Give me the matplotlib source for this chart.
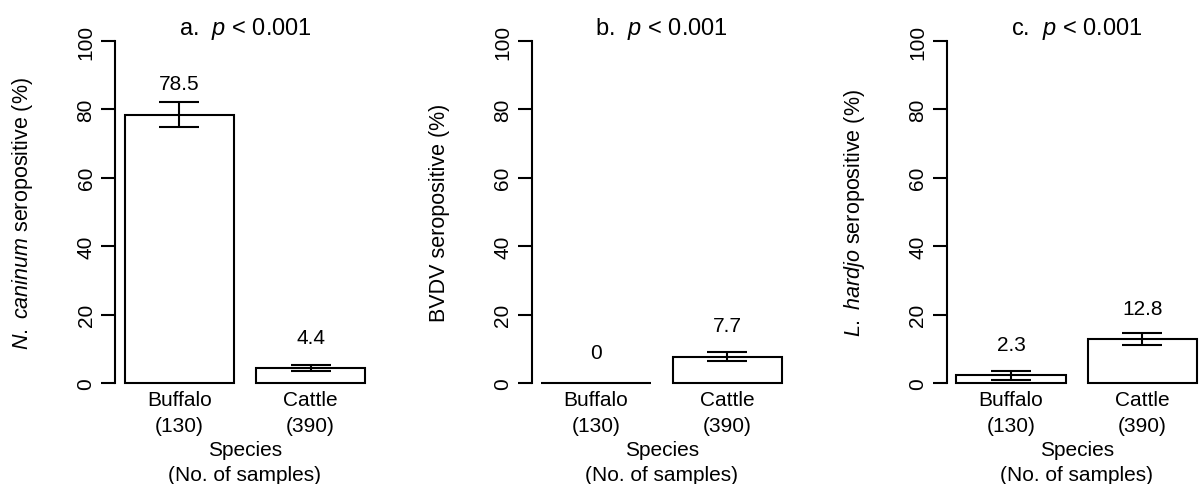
"""
Seroprevalence bar charts: buffalo vs cattle for three pathogens.
"""

import numpy as np
import matplotlib
matplotlib.use("Agg")
import matplotlib.pyplot as plt

# Data
species = ["Buffalo", "Cattle"]
n_samples = [130, 390]

panel_letters = ["a", "b", "c"]
p_values = ["0.001", "0.001", "0.001"]
y_labels = [
    r"$\mathit{N.\ caninum}$ seropositive (%)",
    "BVDV seropositive (%)",
    r"$\mathit{L.\ hardjo}$ seropositive (%)",
]

prevalence = [
    [78.5, 4.4],
    [0.0, 7.7],
    [2.3, 12.8],
]
ci_low = [
    [74.9, 3.4],
    [np.nan, 6.4],
    [1.0, 11.1],
]
ci_high = [
    [82.1, 5.4],
    [np.nan, 9.0],
    [3.6, 14.5],
]

y_ticks = [0, 20, 40, 60, 80, 100]

plt.rcParams["font.family"] = ["Liberation Sans", "DejaVu Sans"]
plt.rcParams["mathtext.fontset"] = "custom"
plt.rcParams["mathtext.rm"] = "Liberation Sans"
plt.rcParams["mathtext.it"] = "Liberation Sans:italic"

W, H = 1203, 485
LW = 1.5
FS = 15
FS_YLAB = 15.5
FS_TITLE = 17


def draw_panel(ax, i):
    """Draw one R-style barplot panel."""
    x = np.array([0.7, 1.9])
    vals = np.array(prevalence[i])
    lo = np.array(ci_low[i])
    hi = np.array(ci_high[i])

    ax.bar(x, vals, width=1.0, facecolor="white", edgecolor="black",
           linewidth=LW, clip_on=False, zorder=2)

    has_err = ~np.isnan(lo)
    ax.errorbar(x[has_err], vals[has_err],
                yerr=[vals[has_err] - lo[has_err], hi[has_err] - vals[has_err]],
                fmt="none", ecolor="black", elinewidth=LW, capsize=14.5,
                capthick=LW, clip_on=False, zorder=3)

    for xi, v in zip(x, vals):
        ax.text(xi, v + 9, f"{v:g}", ha="center", va="center", fontsize=FS)

    ax.set_xlim(0.112, 2.488)
    ax.set_ylim(0, 100)
    ax.set_yticks(y_ticks)
    ax.set_yticklabels([str(t) for t in y_ticks], rotation=90, va="center",
                       fontsize=FS)
    ax.set_xticks(x)
    ax.set_xticklabels([f"{s}\n({n})" for s, n in zip(species, n_samples)],
                       fontsize=FS, linespacing=1.5)

    ax.tick_params(axis="y", direction="out", length=10, width=LW, pad=4)
    ax.tick_params(axis="x", length=0, pad=5)

    for side in ["top", "right", "bottom"]:
        ax.spines[side].set_visible(False)
    ax.spines["left"].set_linewidth(LW)

    ax.set_xlabel("Species\n(No. of samples)", fontsize=FS, linespacing=1.35,
                  va="top")
    ax.xaxis.set_label_coords(0.5, -0.168)
    ax.set_ylabel(y_labels[i], fontsize=FS_YLAB, va="center")
    ax.yaxis.set_label_coords(-92 / 260, 0.5)

    ax.set_title(rf"{panel_letters[i]}.  $\mathit{{p}}$ < {p_values[i]}",
                 fontsize=FS_TITLE, pad=4.5)
    ax.patch.set_visible(False)


fig = plt.figure(figsize=(W / 100, H / 100), dpi=100)
left_px = [115, 531.7, 946.7]
for i, lp in enumerate(left_px):
    ax = fig.add_axes([lp / W, (H - 384) / H, 260 / W, 342 / H])
    draw_panel(ax, i)

fig.savefig("out.png", dpi=100, facecolor="white")
